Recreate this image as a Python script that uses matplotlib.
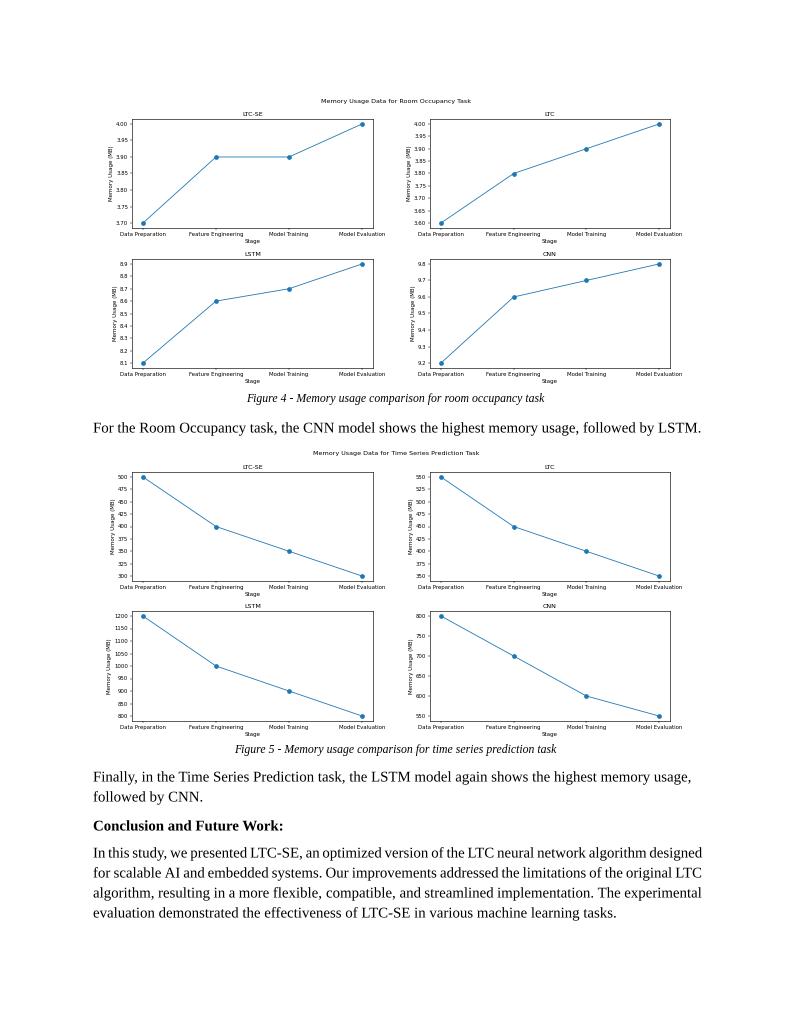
"""Page reproduction: memory usage per stage, room occupancy + time series tasks."""

import matplotlib

matplotlib.use("Agg")
import matplotlib.patheffects as pe
import matplotlib.pyplot as plt
from matplotlib.ticker import MultipleLocator

W, H = 791, 1024  # page size in pixels (dpi 100)

STAGES = ["Data Preparation", "Feature Engineering", "Model Training", "Model Evaluation"]
MODELS = ["LTC-SE", "LTC", "LSTM", "CNN"]

# Room occupancy task (MB)
ROOM_LTC_SE = [3.70, 3.90, 3.90, 4.00]
ROOM_LTC = [3.60, 3.80, 3.90, 4.00]
ROOM_LSTM = [8.1, 8.6, 8.7, 8.9]
ROOM_CNN = [9.2, 9.6, 9.7, 9.8]

# Time series prediction task (MB)
TS_LTC_SE = [500, 400, 350, 300]
TS_LTC = [550, 450, 400, 350]
TS_LSTM = [1200, 1000, 900, 800]
TS_CNN = [800, 700, 600, 550]

ROOM_STEPS = [0.05, 0.05, 0.1, 0.1]
TS_STEPS = [25, 25, 50, 50]

BLUE = "#1f77b4"
SERIF = ["Liberation Serif", "DejaVu Serif"]
BODY_SIZE = 10.7

plt.rcParams.update({
    "font.family": "DejaVu Sans",
    "font.size": 4,
    "axes.titlesize": 4.6,
    "axes.labelsize": 4,
    "xtick.labelsize": 3.9,
    "ytick.labelsize": 3.9,
    "axes.linewidth": 0.45,
    "xtick.major.size": 1.4,
    "ytick.major.size": 1.4,
    "xtick.major.width": 0.35,
    "ytick.major.width": 0.35,
    "xtick.major.pad": 1.4,
    "ytick.major.pad": 1.4,
    "axes.titlepad": 2.4,
    "axes.labelpad": 1.4,
})


def px_axes(fig, x0, y0, x1, y1):
    return fig.add_axes([x0 / W, 1 - y1 / H, (x1 - x0) / W, (y1 - y0) / H])


def draw_panel(ax, title, values, step):
    ax.plot(STAGES, values, marker="o", color=BLUE, lw=0.6, ms=2.4)
    ax.yaxis.set_major_locator(MultipleLocator(step))
    ax.set_title(title)
    ax.set_xlabel("Stage")
    ax.set_ylabel("Memory Usage (MB)")


def draw_block(fig, suptitle, sup_y, rows_y, series, steps):
    fig.text(396 / W, 1 - sup_y / H, suptitle, ha="center", va="center", fontsize=4.6)
    cols = [(132, 373), (430, 670)]
    k = 0
    for y0, y1 in rows_y:
        for x0, x1 in cols:
            ax = px_axes(fig, x0, y0, x1, y1)
            draw_panel(ax, MODELS[k], series[k], steps[k])
            k += 1


def body(fig, text, x, y, size=BODY_SIZE, **kw):
    # y is the visual line centre; drawn as paths so words share one baseline
    return fig.text(x / W, 1 - (y + 4.5) / H, text, ha="left", va="baseline",
                    fontsize=size, family=SERIF, path_effects=[pe.Normal()], **kw)


def justified(fig, text, x0, x1, y, size=BODY_SIZE):
    r = fig.canvas.get_renderer()
    words = text.split()
    arts = [body(fig, w, x0, y, size) for w in words]
    widths = [a.get_window_extent(r).width for a in arts]
    gap = (x1 - x0 - sum(widths)) / (len(words) - 1)
    x = x0
    for a, w in zip(arts, widths):
        a.set_x(x / W)
        x += w + gap


fig = plt.figure(figsize=(W / 100, H / 100), dpi=100)
fig.patch.set_facecolor("white")

draw_block(fig, "Memory Usage Data for Room Occupancy Task", 102,
           [(119, 228), (259, 368)],
           [ROOM_LTC_SE, ROOM_LTC, ROOM_LSTM, ROOM_CNN], ROOM_STEPS)
draw_block(fig, "Memory Usage Data for Time Series Prediction Task", 454,
           [(472, 581), (611, 721)],
           [TS_LTC_SE, TS_LTC, TS_LSTM, TS_CNN], TS_STEPS)

fig.text(395 / W, 1 - 399 / H, "Figure 4 - Memory usage comparison for room occupancy task",
         ha="center", va="center", fontsize=8.5, style="italic", family=SERIF)
fig.text(395 / W, 1 - 750 / H, "Figure 5 - Memory usage comparison for time series prediction task",
         ha="center", va="center", fontsize=8.5, style="italic", family=SERIF)

body(fig, "For the Room Occupancy task, the CNN model shows the highest memory usage, followed by LSTM.",
     93, 428)
body(fig, "Finally, in the Time Series Prediction task, the LSTM model again shows the highest memory usage,",
     93, 777)
body(fig, "followed by CNN.", 93, 797)
body(fig, "Conclusion and Future Work:", 93, 826, weight="bold")

para = [
    "In this study, we presented LTC-SE, an optimized version of the LTC neural network algorithm designed",
    "for scalable AI and embedded systems. Our improvements addressed the limitations of the original LTC",
    "algorithm, resulting in a more flexible, compatible, and streamlined implementation. The experimental",
]
for i, line in enumerate(para):
    justified(fig, line, 93, 702, 853 + 20 * i)
body(fig, "evaluation demonstrated the effectiveness of LTC-SE in various machine learning tasks.", 93, 913)

fig.savefig("out.png", dpi=100, facecolor="white")
